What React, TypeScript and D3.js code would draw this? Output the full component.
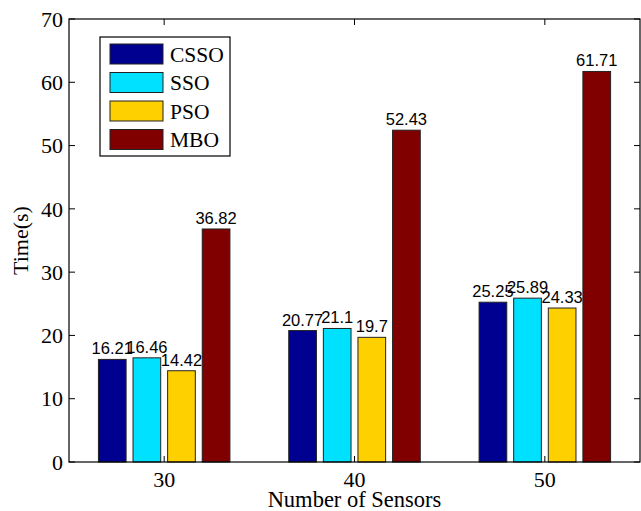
import * as d3 from 'd3';

// ─── Data ─────────────────────────────────────────────────────────────────────
const groups = ['30', '40', '50'];
const seriesNames = ['CSSO', 'SSO', 'PSO', 'MBO'];
const csso = [16.21, 20.77, 25.25];
const sso = [16.46, 21.1, 25.89];
const pso = [14.42, 19.7, 24.33];
const mbo = [36.82, 52.43, 61.71];
const yTicks = [0, 10, 20, 30, 40, 50, 60, 70];

const COLORS = ['#000090', '#00E0FF', '#FFD000', '#800000'];
const SERIF = '"Liberation Serif", "Times New Roman", serif';
const SANS = '"Liberation Sans", Arial, sans-serif';

export default function App() {
  const width = 641;
  const height = 511;
  const margin = { top: 19, right: 1, bottom: 49, left: 69 };
  const innerW = width - margin.left - margin.right;
  const innerH = height - margin.top - margin.bottom;

  const values = [csso, sso, pso, mbo];

  // MATLAB-style grouped bars: xlim [0.5, 3.5]
  const x = d3.scaleLinear().domain([0.5, groups.length + 0.5]).range([0, innerW]);
  const y = d3.scaleLinear().domain([0, 70]).range([innerH, 0]);

  const n = seriesNames.length;
  const groupWidth = Math.min(0.8, n / (n + 1.5));
  const step = groupWidth / n;
  const barW = x(step * 0.8) - x(0);
  const barCenter = (gi: number, si: number) => x(gi + 1 - groupWidth / 2 + step * (si + 0.5));

  const tick = 6;

  return (
    <svg width={width} height={height} style={{ position: 'absolute', left: 0, top: 0, background: '#fff' }}>
      <g transform={`translate(${margin.left},${margin.top})`}>
        {/* Bars */}
        {values.map((vals, si) => vals.map((v, gi) => (
          <rect key={`${si}-${gi}`}
            x={barCenter(gi, si) - barW / 2} y={y(v)}
            width={barW} height={y(0) - y(v)}
            fill={COLORS[si]} stroke="#222" strokeWidth={1} />
        )))}

        {/* Value labels */}
        {values.map((vals, si) => vals.map((v, gi) => (
          <text key={`l${si}-${gi}`} x={barCenter(gi, si)} y={y(v) - 5}
            textAnchor="middle" fontFamily={SANS} fontSize={16.5} fill="#000">{v}</text>
        )))}

        {/* Box */}
        <rect x={0} y={0} width={innerW} height={innerH} fill="none" stroke="#000" strokeWidth={1.2} />

        {/* Y ticks */}
        {yTicks.map(t => (
          <g key={`y${t}`}>
            <line x1={0} x2={tick} y1={y(t)} y2={y(t)} stroke="#000" />
            <line x1={innerW} x2={innerW - tick} y1={y(t)} y2={y(t)} stroke="#000" />
            <text x={-6} y={y(t)} dy="0.35em" textAnchor="end" fontFamily={SERIF} fontSize={22} fill="#000">{t}</text>
          </g>
        ))}

        {/* X ticks */}
        {groups.map((gname, gi) => (
          <g key={`x${gname}`}>
            <line x1={x(gi + 1)} x2={x(gi + 1)} y1={innerH} y2={innerH - tick} stroke="#000" />
            <line x1={x(gi + 1)} x2={x(gi + 1)} y1={0} y2={tick} stroke="#000" />
            <text x={x(gi + 1)} y={innerH + 24.5} textAnchor="middle" fontFamily={SERIF} fontSize={22} fill="#000">{gname}</text>
          </g>
        ))}

        {/* Axis labels */}
        <text x={x(2)} y={innerH + 45} textAnchor="middle" fontFamily={SERIF} fontSize={22.5} fill="#000">Number of Sensors</text>
        <text transform={`translate(${-41},${innerH / 2}) rotate(-90)`} textAnchor="middle" fontFamily={SERIF} fontSize={22} fill="#000">Time(s)</text>

        {/* Legend */}
        <g transform="translate(31,18)">
          <rect x={0} y={0} width={130} height={119} fill="#fff" stroke="#000" strokeWidth={1.2} />
          {seriesNames.map((s, i) => (
            <g key={s} transform={`translate(10,${17 + i * 28.5})`}>
              <rect x={0} y={-10} width={53} height={20} fill={COLORS[i]} stroke="#222" />
              <text x={60} y={0} dy="0.35em" fontFamily={SERIF} fontSize={21.5} fill="#000">{s}</text>
            </g>
          ))}
        </g>
      </g>
    </svg>
  );
}
